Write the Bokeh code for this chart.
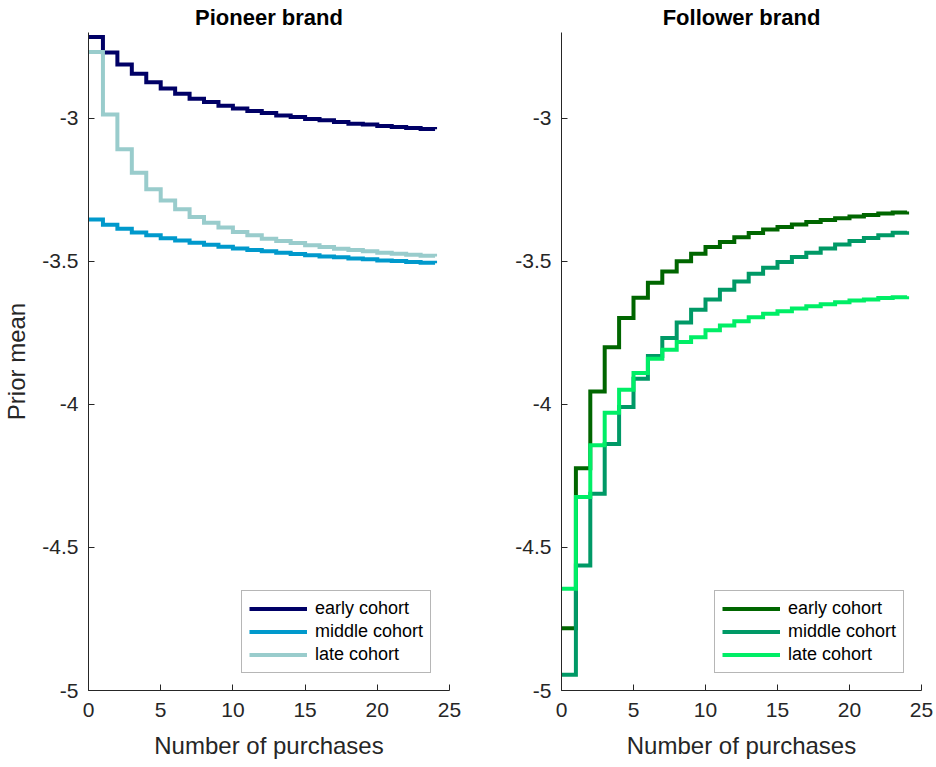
from bokeh.plotting import figure
from bokeh.layouts import row
from bokeh.models import Range1d, FixedTicker, CustomJSTickFormatter
from bokeh.embed import file_html
from bokeh.resources import INLINE

# ---- data -------------------------------------------------------------
purchases = list(range(25))

pioneer_early = [-2.716, -2.770, -2.812, -2.844, -2.874, -2.896, -2.914, -2.932, -2.943,
                 -2.956, -2.966, -2.974, -2.981, -2.990, -2.995, -3.002, -3.007, -3.013,
                 -3.019, -3.022, -3.027, -3.030, -3.034, -3.037, -3.038]
pioneer_middle = [-3.354, -3.372, -3.386, -3.399, -3.409, -3.419, -3.427, -3.435, -3.442,
                  -3.449, -3.455, -3.460, -3.465, -3.470, -3.474, -3.479, -3.483, -3.486,
                  -3.490, -3.493, -3.497, -3.499, -3.502, -3.505, -3.507]
pioneer_late = [-2.768, -2.987, -3.108, -3.190, -3.248, -3.287, -3.318, -3.345, -3.365,
                -3.382, -3.397, -3.409, -3.421, -3.429, -3.436, -3.444, -3.450, -3.456,
                -3.460, -3.465, -3.470, -3.473, -3.477, -3.480, -3.483]

follower_early = [-4.782, -4.223, -3.955, -3.800, -3.698, -3.627, -3.575, -3.535, -3.500,
                  -3.473, -3.450, -3.432, -3.416, -3.401, -3.389, -3.380, -3.371, -3.362,
                  -3.355, -3.349, -3.343, -3.338, -3.333, -3.329, -3.326]
follower_middle = [-4.945, -4.563, -4.312, -4.138, -4.009, -3.910, -3.831, -3.768, -3.714,
                   -3.669, -3.633, -3.599, -3.570, -3.543, -3.522, -3.502, -3.485, -3.470,
                   -3.455, -3.441, -3.429, -3.418, -3.409, -3.400, -3.395]
follower_late = [-4.644, -4.324, -4.143, -4.029, -3.949, -3.890, -3.840, -3.809, -3.782,
                 -3.765, -3.741, -3.724, -3.709, -3.695, -3.683, -3.674, -3.665, -3.657,
                 -3.650, -3.643, -3.637, -3.633, -3.628, -3.625, -3.622]

cohort_labels = ["early cohort", "middle cohort", "late cohort"]
pioneer_colors = ["#000066", "#0099CC", "#99CCCC"]
follower_colors = ["#006600", "#009966", "#00EE66"]

x_ticks = [0, 5, 10, 15, 20, 25]
y_ticks = [-5, -4.5, -4, -3.5, -3]

FONT = "Liberation Sans"
AX = "#262626"


def make_panel(title, series, colors, width, left, right, ylabel):
    p = figure(width=width, height=767, x_range=Range1d(0, 25), y_range=Range1d(-5, -2.7),
               output_backend="svg", toolbar_location=None, title=title,
               min_border_left=left, min_border_right=right, min_border_top=32,
               min_border_bottom=77)
    p.outline_line_color = None
    p.grid.visible = False
    p.title.align = "center"
    p.title.vertical_align = "top"
    p.title.text_font = FONT
    p.title.text_font_size = "22px"
    p.title.text_font_style = "bold"
    p.title.text_color = "#000000"
    p.title.standoff = 2
    p.title.offset = 0

    for ax in (p.xaxis[0], p.yaxis[0]):
        ax.axis_line_color = AX
        ax.major_tick_line_color = AX
        ax.major_tick_in = 6
        ax.major_tick_out = 0
        ax.minor_tick_line_color = None
        ax.major_label_text_font = FONT
        ax.major_label_text_font_size = "21px"
        ax.major_label_text_color = AX
        ax.axis_label_text_font = FONT
        ax.axis_label_text_font_size = "24px"
        ax.axis_label_text_font_style = "normal"
        ax.axis_label_text_color = AX
    p.xaxis.major_label_standoff = 12
    p.xaxis.axis_label_standoff = 12
    p.yaxis.major_label_standoff = 10
    p.yaxis.axis_label_standoff = 9
    p.xaxis.ticker = FixedTicker(ticks=x_ticks)
    p.yaxis.ticker = FixedTicker(ticks=y_ticks)
    p.yaxis.formatter = CustomJSTickFormatter(code="return tick.toString();")
    p.xaxis.axis_label = "Number of purchases"
    if ylabel:
        p.yaxis.axis_label = ylabel

    for ys, c, lab in zip(series, colors, cohort_labels):
        p.step(purchases, ys, mode="after", line_color=c, line_width=4,
               line_join="miter", legend_label=lab)

    lg = p.legend[0]
    lg.location = (153, 17)
    lg.border_line_color = "#6e6e6e"
    lg.border_line_width = 1
    lg.background_fill_alpha = 1
    lg.label_text_font = FONT
    lg.label_text_font_size = "18px"
    lg.label_text_color = "#000000"
    lg.glyph_width = 58
    lg.glyph_height = 21
    lg.label_height = 21
    lg.label_standoff = 8
    lg.spacing = 2
    lg.padding = 7
    lg.margin = 0
    return p


p1 = make_panel("Pioneer brand", [pioneer_early, pioneer_middle, pioneer_late],
                pioneer_colors, 478, 88, 29, "Prior mean")
p2 = make_panel("Follower brand", [follower_early, follower_middle, follower_late],
                follower_colors, 458, 83, 15, None)

layout = row(p1, p2)
open("out.html", "w").write(file_html(layout, INLINE))
